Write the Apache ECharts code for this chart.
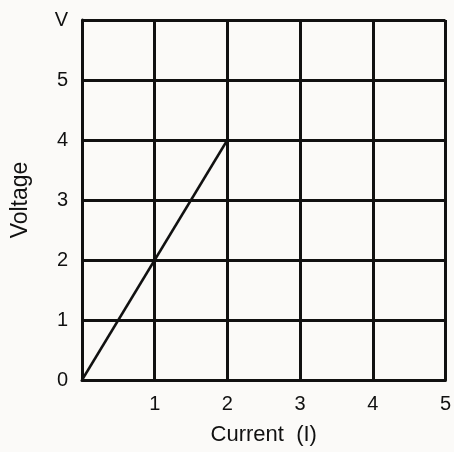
<!DOCTYPE html>
<html>
<head>
<meta charset="utf-8">
<script src="https://cdn.jsdelivr.net/npm/echarts@6/dist/echarts.min.js"></script>
<style>
  html, body { margin: 0; padding: 0; background: #fbfaf8; }
  #main { width: 454px; height: 452px; }
</style>
</head>
<body>
<div id="main"></div>
<script>
// data
var currentVals = [0, 2];
var voltageVals = [0, 4];
var xTickLabels = ['', '1', '2', '3', '4', '5'];
var yTickLabels = ['0', '1', '2', '3', '4', '5', 'V'];

function initChart(){
    var myChart = echarts.init(document.getElementById('main'));
    var pts = [];
    for(var i=0;i<currentVals.length;i++){
        pts.push([currentVals[i], voltageVals[i]]);
    }
    var font = 'Liberation Sans, Arial, sans-serif';
    var option = {
        backgroundColor: '#fbfaf8',
        animation: false,
        grid: {
            left: 82,
            top: 20,
            width: 369,
            height: 360,
            containLabel: false
        },
        xAxis: {
            type: 'value',
            min: 0,
            max: 5,
            interval: 1,
            name: 'Current  (I)',
            nameLocation: 'middle',
            nameGap: 44,
            nameTextStyle: { color: '#111', fontSize: 22, fontFamily: font },
            axisLine: { show: true, lineStyle: { color: '#111', width: 3 } },
            axisTick: { show: false },
            splitLine: { show: true, lineStyle: { color: '#111', width: 3 } },
            axisLabel: {
                color: '#111', fontSize: 20, fontFamily: font, margin: 14,
                formatter: function (v) { return xTickLabels[Math.round(v)]; }
            }
        },
        yAxis: {
            type: 'value',
            min: 0,
            max: 6,
            interval: 1,
            name: 'Voltage',
            nameLocation: 'middle',
            nameGap: 50,
            nameRotate: 90,
            nameTextStyle: { color: '#111', fontSize: 23, fontFamily: font },
            axisLine: { show: true, lineStyle: { color: '#111', width: 3 } },
            axisTick: { show: false },
            splitLine: { show: true, lineStyle: { color: '#111', width: 3 } },
            axisLabel: {
                color: '#111', fontSize: 20, fontFamily: font, margin: 14,
                formatter: function (v) { return yTickLabels[Math.round(v)]; }
            }
        },
        series: [
            {
                type: 'line',
                data: pts,
                symbol: 'none',
                lineStyle: { color: '#111', width: 2.5 }
            }
        ]
    };
    myChart.setOption(option);
}
initChart();
</script>
</body>
</html>
